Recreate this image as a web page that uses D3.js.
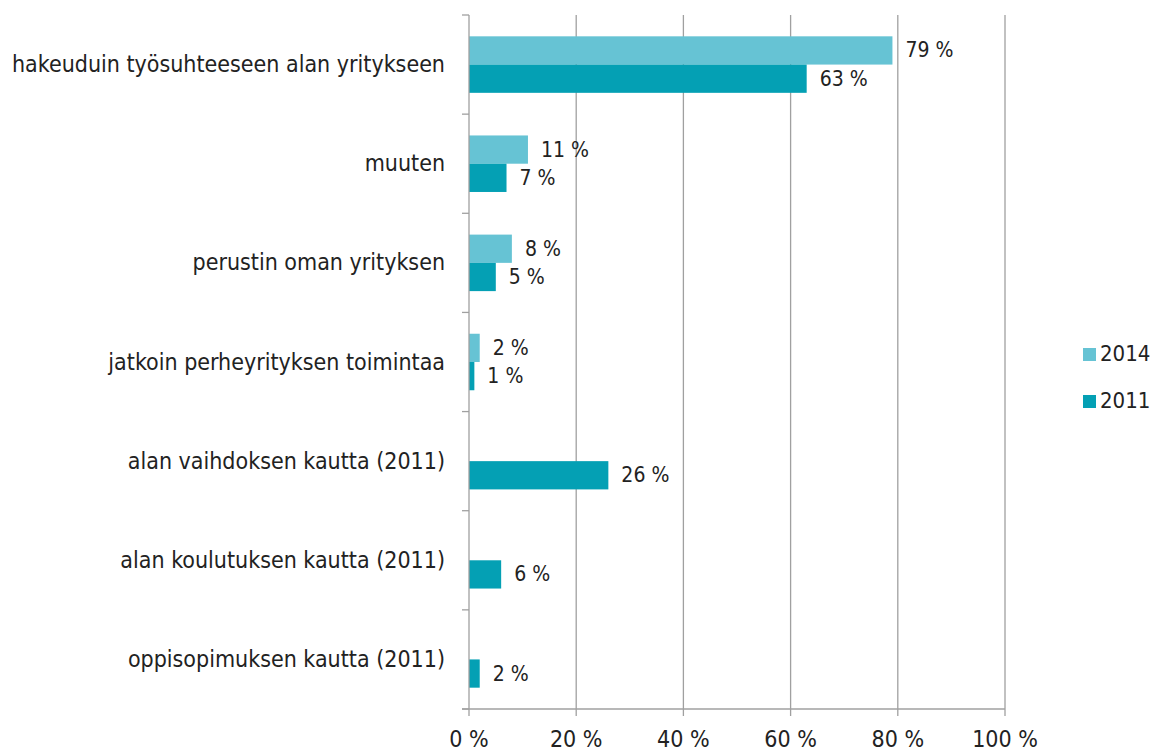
<!DOCTYPE html>
<html>
<head>
<meta charset="utf-8">
<script src="https://cdn.jsdelivr.net/npm/d3@7"></script>
<style>
  body { margin: 0; background: #fff; }
  svg text { font-family: "DejaVu Sans Condensed", "DejaVu Sans", sans-serif; font-stretch: condensed; fill: #222; }
</style>
</head>
<body>
<div id="chart"></div>
<script>
// data
const categories = [
  'hakeuduin työsuhteeseen alan yritykseen',
  'muuten',
  'perustin oman yrityksen',
  'jatkoin perheyrityksen toimintaa',
  'alan vaihdoksen kautta (2011)',
  'alan koulutuksen kautta (2011)',
  'oppisopimuksen kautta (2011)'
];
const years = ['2014', '2011'];
const values2014 = [79, 11, 8, 2, null, null, null];
const values2011 = [63, 7, 5, 1, 26, 6, 2];
const xTicks = [0, 20, 40, 60, 80, 100];
const colors = { '2014': '#66c3d4', '2011': '#04a0b4' };

const W = 1157, H = 754;
const m = { left: 469, right: 152, top: 15, bottom: 45 };

const svg = d3.select('#chart').append('svg')
  .attr('width', W).attr('height', H);

const x = d3.scaleLinear().domain([0, 100]).range([m.left, W - m.right]);
const y = d3.scaleBand().domain(categories).range([m.top, H - m.bottom]).paddingInner(0.43).paddingOuter(0.215);
const ySub = d3.scaleBand().domain(years).range([0, y.bandwidth()]);

// grid
svg.append('g').selectAll('line').data(xTicks.slice(1)).join('line')
  .attr('x1', d => x(d)).attr('x2', d => x(d))
  .attr('y1', m.top).attr('y2', H - m.bottom + 7)
  .attr('stroke', '#a0a0a0').attr('stroke-width', 1.3);

// bars
const rows = categories.map((c, i) => ({ c, v: { '2014': values2014[i], '2011': values2011[i] } }));
const grp = svg.append('g').selectAll('g').data(rows).join('g')
  .attr('transform', d => `translate(0,${y(d.c)})`);

years.forEach(yr => {
  const sub = grp.filter(d => d.v[yr] != null);
  sub.append('rect')
    .attr('x', x(0)).attr('y', ySub(yr))
    .attr('width', d => x(d.v[yr]) - x(0)).attr('height', ySub.bandwidth())
    .attr('fill', colors[yr]);
  sub.append('text')
    .attr('x', d => x(d.v[yr]) + 13)
    .attr('y', ySub(yr) + ySub.bandwidth() / 2 + 1)
    .attr('dominant-baseline', 'middle')
    .attr('font-size', 21)
    .text(d => d.v[yr] + ' %');
});

// left axis
const step = (H - m.bottom - m.top) / categories.length;
svg.append('line').attr('x1', m.left).attr('x2', m.left)
  .attr('y1', m.top).attr('y2', H - m.bottom + 7)
  .attr('stroke', '#a0a0a0').attr('stroke-width', 1.3);
svg.append('g').selectAll('line').data(d3.range(categories.length + 1)).join('line')
  .attr('x1', m.left - 7).attr('x2', m.left)
  .attr('y1', i => m.top + i * step).attr('y2', i => m.top + i * step)
  .attr('stroke', '#a0a0a0').attr('stroke-width', 1.3);
svg.append('g').selectAll('text').data(categories).join('text')
  .attr('x', 445).attr('y', d => y(d) + y.bandwidth() / 2 + 1)
  .attr('text-anchor', 'end').attr('dominant-baseline', 'middle')
  .attr('font-size', 23)
  .text(d => d);

// bottom axis
const bottom = H - m.bottom;
svg.append('line').attr('x1', m.left - 7).attr('x2', x(100))
  .attr('y1', bottom).attr('y2', bottom)
  .attr('stroke', '#a0a0a0').attr('stroke-width', 1.3);
svg.append('g').selectAll('text').data(xTicks).join('text')
  .attr('x', d => x(d)).attr('y', 747)
  .attr('text-anchor', 'middle').attr('font-size', 23)
  .text(d => d + ' %');

// legend
const leg = svg.append('g').selectAll('g').data(years).join('g')
  .attr('transform', (d, i) => `translate(1083,${348 + i * 47})`);
leg.append('rect').attr('width', 13).attr('height', 13).attr('fill', d => colors[d]);
leg.append('text').attr('x', 17).attr('y', 7).attr('dominant-baseline', 'middle')
  .attr('font-size', 22).text(d => d);
</script>
</body>
</html>
